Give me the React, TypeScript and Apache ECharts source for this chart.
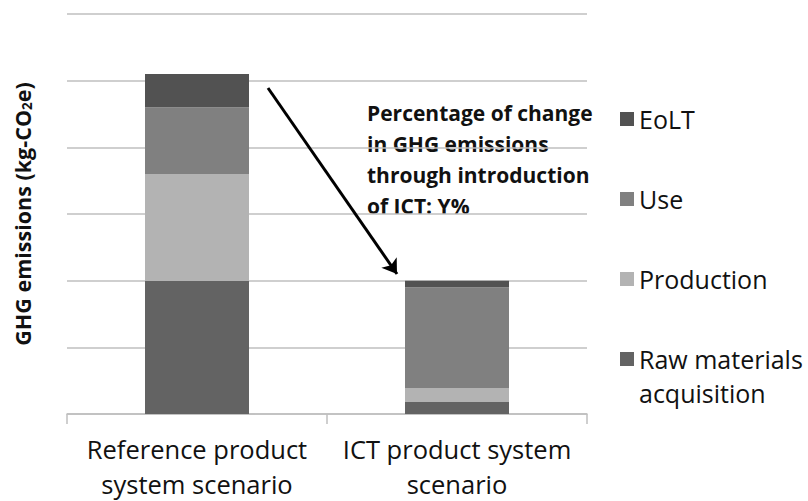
import React, { useEffect, useRef } from "react";
import * as echarts from "echarts";

const categories = ["Reference product\nsystem scenario", "ICT product system\nscenario"];
const rawMaterials = [2.0, 0.18];
const production = [1.6, 0.21];
const use = [1.0, 1.51];
const eolt = [0.5, 0.1];
const seriesNames = ["Raw materials acquisition", "Production", "Use", "EoLT"];
const legendOrder = ["EoLT", "Use", "Production", "Raw materials acquisition"];
const colors = ["#636363", "#b3b3b3", "#808080", "#525252"];
const annotation = "Percentage of change\nin GHG emissions\nthrough introduction\nof ICT: Y%";

const FONT = "Open Sans";

export default function App() {
  const ref = useRef<HTMLDivElement>(null);
  useEffect(() => {
    if (!ref.current) return;
    const chart = echarts.init(ref.current, null, { renderer: "svg" });
    const values = [rawMaterials, production, use, eolt];
    chart.setOption({
      animation: false,
      textStyle: { fontFamily: FONT },
      grid: { left: 67, right: 221, top: 14, bottom: 87, containLabel: false, outerBoundsMode: "none" },
      xAxis: {
        type: "category",
        data: categories,
        axisLine: { lineStyle: { color: "#bfbfbf", width: 1.5 } },
        axisTick: { show: true, length: 10, lineStyle: { color: "#bfbfbf", width: 1.5 } },
        axisLabel: { interval: 0, color: "#111", fontSize: 25.5, lineHeight: 35, margin: 17, fontFamily: FONT },
      },
      yAxis: {
        type: "value",
        min: 0,
        max: 6,
        interval: 1,
        axisLabel: { show: false },
        axisLine: { show: false },
        axisTick: { show: false },
        splitLine: { lineStyle: { color: "#bfbfbf", width: 1.5 } },
        name: "GHG emissions (kg-CO{sub|2}e)",
        nameLocation: "middle",
        nameRotate: 90,
        nameGap: 33,
        nameTextStyle: {
          fontFamily: FONT,
          fontSize: 21.5,
          fontWeight: "bold",
          color: "#111",
          rich: {
            sub: { fontSize: 13.5, fontWeight: "bold", color: "#111", verticalAlign: "bottom", padding: [9, 0, 0, 0], fontFamily: FONT },
          },
        },
      },
      legend: {
        orient: "vertical",
        left: 615,
        top: 99,
        itemWidth: 14,
        itemHeight: 14,
        itemGap: 50,
        icon: "rect",
        data: legendOrder,
        formatter: (n: string) => (n === "Raw materials acquisition" ? "Raw materials" : n),
        textStyle: { fontSize: 25, color: "#111", lineHeight: 30, fontFamily: FONT },
      },
      graphic: [
        {
          type: "text",
          left: 367,
          top: 97,
          style: {
            text: annotation,
            fontFamily: FONT,
            fontSize: 21,
            fontWeight: "bold",
            lineHeight: 31,
            fill: "#111",
          },
        },
        {
          type: "text",
          x: 639,
          y: 393,
          style: { text: "acquisition", fontFamily: FONT, fontSize: 25, fill: "#111", verticalAlign: "middle" },
        },
      ],
      series: seriesNames.map((name, i) => ({
        name,
        type: "bar",
        stack: "total",
        barWidth: 104,
        data: values[i],
        itemStyle: { color: colors[i] },
        ...(i === 0
          ? {
              markLine: {
                silent: true,
                symbol: ["none", "arrow"],
                symbolSize: 14,
                label: { show: false },
                lineStyle: { color: "#000", width: 3, type: "solid" },
                data: [[{ x: 268, y: 88 }, { x: 397, y: 274 }]],
              },
            }
          : {}),
      })),
    });
    return () => chart.dispose();
  }, []);
  return <div ref={ref} style={{ position: "absolute", left: 0, top: 0, width: 808, height: 501 }} />;
}
